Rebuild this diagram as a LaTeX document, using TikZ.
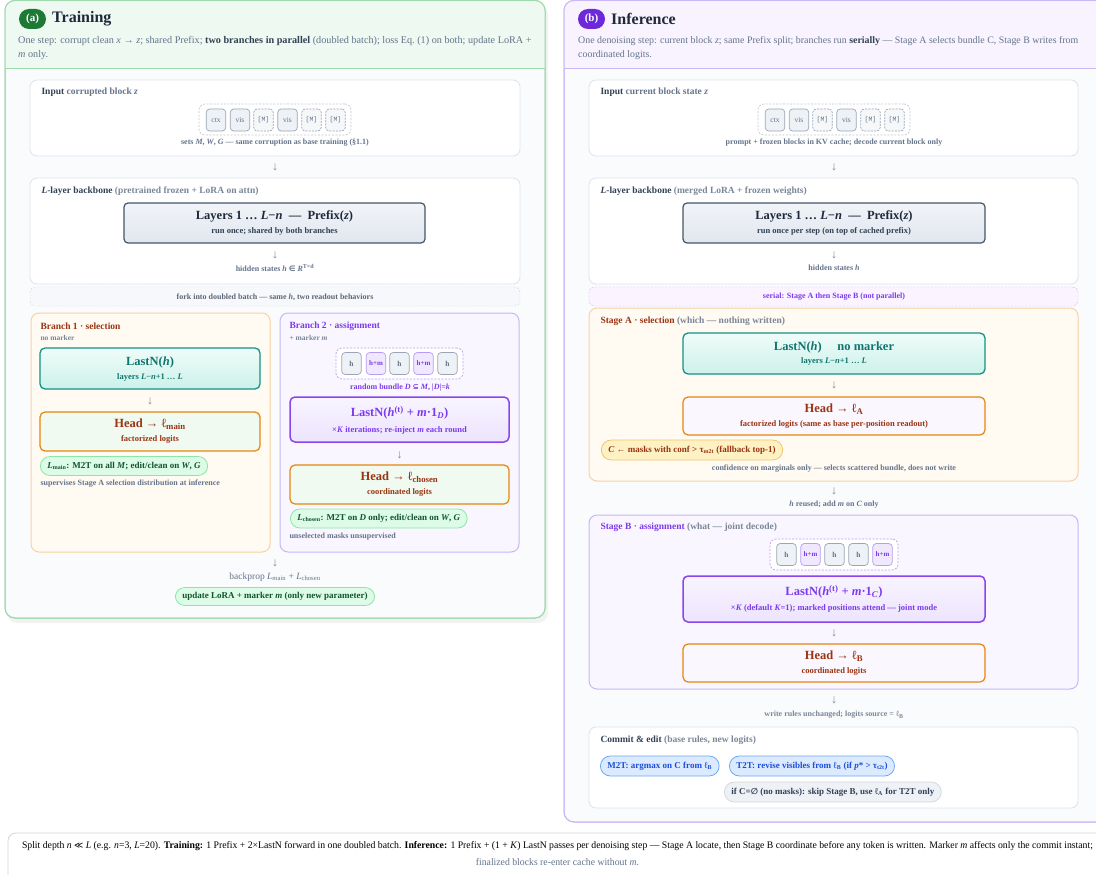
\documentclass[tikz,border=0pt]{standalone}
\usepackage{fontspec}
\setmainfont{Liberation Serif}
\setmonofont{Liberation Mono}
\newfontfamily\symf{DejaVu Sans}
\usetikzlibrary{fit}
\newcommand\fs[1]{\fontsize{#1}{#1}\selectfont}
\newcommand\ssb[1]{\textsubscript{#1}}
\newcommand\ssp[1]{\textsuperscript{#1}}
\definecolor{ink}{HTML}{1E293B}
\definecolor{slate}{HTML}{334155}
\definecolor{muted}{HTML}{64748B}
\definecolor{mutedl}{HTML}{7B8798}
\definecolor{cardline}{HTML}{DDE3EC}
\definecolor{tokline}{HTML}{9AA6B6}
\definecolor{tokfill}{HTML}{EEF1F5}
\definecolor{trborder}{HTML}{9ED9AE}
\definecolor{trhead}{HTML}{EEF9F1}
\definecolor{trbadge}{HTML}{1C7A36}
\definecolor{inborder}{HTML}{C9B8F7}
\definecolor{inhead}{HTML}{F8F3FE}
\definecolor{inbadge}{HTML}{6D28D9}
\definecolor{bodyfill}{HTML}{FAFBFD}
\definecolor{brownt}{HTML}{9A3412}
\definecolor{tealt}{HTML}{0F766E}
\definecolor{tealline}{HTML}{139383}
\definecolor{tealtop}{HTML}{EFFCF9}
\definecolor{tealbot}{HTML}{CDF1EA}
\definecolor{purp}{HTML}{7C3AED}
\definecolor{purpline}{HTML}{8B45EE}
\definecolor{purptop}{HTML}{F8F4FF}
\definecolor{purpbot}{HTML}{EDE4FE}
\definecolor{orng}{HTML}{E5860F}
\definecolor{creamfill}{HTML}{FFFAF2}
\definecolor{creamline}{HTML}{F8D3A0}
\definecolor{lilacfill}{HTML}{FAF6FF}
\definecolor{lilacline}{HTML}{C8B6FA}
\definecolor{greenpill}{HTML}{DCFCE7}
\definecolor{greenpline}{HTML}{8EE5A8}
\definecolor{greenptext}{HTML}{14532D}
\definecolor{yellpill}{HTML}{FEF1C3}
\definecolor{yellpline}{HTML}{F3C46E}
\definecolor{bluepill}{HTML}{DBEAFE}
\definecolor{bluepline}{HTML}{6AAAF5}
\definecolor{bluetext}{HTML}{1D4ED8}
\definecolor{graypill}{HTML}{EEF1F5}
\definecolor{graypline}{HTML}{D3D8E0}
\definecolor{innerl}{HTML}{475569}
\definecolor{innertop}{HTML}{F1F4F8}
\definecolor{innerbot}{HTML}{E1E7EF}
\definecolor{headgfill}{HTML}{F0FAF1}
\definecolor{headpfill}{HTML}{FBF7FF}
\definecolor{tokhmfill}{HTML}{F0E8FE}
\definecolor{tokhmline}{HTML}{B99CF6}
\definecolor{forkfill}{HTML}{F6F8FB}
\definecolor{serialfill}{HTML}{FBF3FF}
\definecolor{footline}{HTML}{CFD6E0}
\newsavebox\foota
\newlength\footw
\begin{document}
\sbox\foota{\fs{10}Split depth \textit{n} {\symf\fs{9}≪} \textit{L} (e.g. \textit{n}=3, \textit{L}=20). \textbf{Training:} 1 Prefix + 2×LastN forward in one doubled batch. \textbf{Inference:} 1 Prefix + (1 + \textit{K}) LastN passes per denoising step — Stage A locate, then Stage B coordinate before any token is written. Marker \textit{m} affects only the commit instant;}%
\setlength\footw{\wd\foota}%
\pgfmathsetmacro\footr{1071/\footw}%
\begin{tikzpicture}[x=1pt,y=-1pt,
  panel/.style={inner sep=0pt, rounded corners=10pt, line width=1pt, fill=bodyfill},
  card/.style={draw=cardline, fill=white, rounded corners=7pt, line width=0.8pt, inner sep=0pt},
  tokwrap/.style={draw=tokline!60, dash pattern=on 2pt off 1.5pt, fill=white, rounded corners=6pt, inner sep=0pt, line width=0.7pt},
  tokwrapp/.style={tokwrap, draw=tokhmline},
  tokc/.style={draw=tokline, fill=tokfill, rounded corners=3.5pt, minimum width=19.5pt, minimum height=22pt, inner sep=0pt, font=\fs{7.5}, text=muted, line width=0.7pt},
  tokm/.style={tokc, dash pattern=on 2pt off 1.2pt, fill=tokfill!60, font=\fs{6.5}\ttfamily},
  tokh/.style={tokc, font=\fs{7.5}\bfseries},
  tokhm/.style={tokc, draw=tokhmline, fill=tokhmfill, text=purp, font=\fs{7}\bfseries},
  innerbox/.style={draw=innerl, line width=1.2pt, rounded corners=4pt, top color=innertop, bottom color=innerbot, inner sep=0pt},
  tealbox/.style={draw=tealline, line width=1.3pt, rounded corners=5pt, top color=tealtop, bottom color=tealbot, inner sep=0pt},
  purpbox/.style={draw=purpline, line width=1.5pt, rounded corners=5pt, top color=purptop, bottom color=purpbot, inner sep=0pt},
  headg/.style={draw=orng, line width=1.2pt, rounded corners=5pt, fill=headgfill, inner sep=0pt},
  headp/.style={headg, fill=headpfill},
  branchc/.style={draw=creamline, fill=creamfill, rounded corners=8pt, line width=1pt, inner sep=0pt},
  branchl/.style={draw=lilacline, fill=lilacfill, rounded corners=8pt, line width=1pt, inner sep=0pt},
  pillbase/.style={rounded corners=9.5pt, minimum height=19pt, inner xsep=7pt, inner ysep=0pt, line width=0.8pt, font=\fs{9}\bfseries},
  gpill/.style={pillbase, draw=greenpline, fill=greenpill, text=greenptext},
  ypill/.style={pillbase, draw=yellpline, fill=yellpill, text=brownt},
  bpill/.style={pillbase, draw=bluepline, fill=bluepill, text=bluetext},
  grpill/.style={pillbase, draw=graypline, fill=graypill, text=slate},
  arr/.style={font=\fs{12}, text=mutedl, inner sep=0pt},
  ttl/.style={anchor=west, font=\fs{9.5}\bfseries, text=slate},
  capt/.style={font=\fs{8}\bfseries, text=muted, inner sep=0pt},
  bigt/.style={font=\fs{12.5}\bfseries, inner sep=0pt},
  smt/.style={font=\fs{8.5}\bfseries, inner sep=0pt},
  badge/.style={rounded corners=10pt, minimum width=27pt, minimum height=20pt, text=white, font=\fs{11}\bfseries, inner sep=0pt},
  subt/.style={anchor=base west, font=\fs{10}, text=muted, inner sep=0pt}
]
\useasboundingbox (0,0) rectangle (1096,875);
\fill[white] (0,0) rectangle (1096,875);

%================ TRAINING PANEL =================
\fill[black, opacity=0.05, rounded corners=10pt] (7,4) rectangle (548,623);
\node[panel, draw=trborder, fit={(5,0.5)(545,618)}] (trpanel) {};
\begin{scope}
  \clip[rounded corners=10pt] (5,0.5) rectangle (545,618);
  \fill[trhead] (5,0) rectangle (545,68);
\end{scope}
\draw[trborder, line width=0.8pt] (5,68) -- (545,68);
\draw[trborder, line width=1pt, rounded corners=10pt] (5,0.5) rectangle (545,618);

\node[badge, fill=trbadge] (abadge) at (32.5,19) {(a)};
\node[anchor=west, font=\fs{16}\bfseries, text=ink, inner sep=0pt] (atitle) at (52,19) {Training};
\node[subt, font=\fs{10.2}] (asub1) at (18,43.5) {One step: corrupt clean \textit{x} → \textit{z}; shared Prefix; \textbf{\textcolor{slate}{two branches in parallel}} (doubled batch); loss Eq.~(1) on both; update LoRA +};
\node[subt, font=\fs{10.2}] (asub2) at (18,57.5) {\textit{m} only.};

% input card
\node[card, fit={(30,80)(520,156)}] (ainput) {};
\node[ttl] (ainputt) at (38,92) {Input \textcolor{muted}{corrupted block \textit{z}}};
\node[tokwrap, fit={(199,104)(351,135)}] (atoks) {};
\node[tokc] (at1) at (216,120) {ctx};
\node[tokc] (at2) at (240,120) {vis};
\node[tokm] (at3) at (263.5,120) {[M]};
\node[tokc] (at4) at (287.5,120) {vis};
\node[tokm] (at5) at (311.5,120) {[M]};
\node[tokm] (at6) at (335.5,120) {[M]};
\node[capt] (acap) at (275,143) {sets \textit{M}, \textit{W}, \textit{G} — same corruption as base training (§1.1)};
\node[arr] (aarr1) at (275,167) {↓};

% backbone
\node[card, fit={(30,178)(520,284)}] (aback) {};
\node[ttl] (abackt) at (38,191) {\textit{L}-layer backbone \textcolor{mutedl}{(pretrained frozen + LoRA on attn)}};
\node[innerbox, fit={(124,203)(425,243)}] (apre) {};
\node[bigt, text=ink] (apre1) at (274.5,216) {Layers 1 … \textit{L}−\textit{n} \ — \ Prefix(\textit{z})};
\node[smt, text=slate] (apre2) at (274.5,231) {run once; shared by both branches};
\node[arr] (aarr2) at (275,255) {↓};
\node[capt] (ahid) at (275,268) {hidden states \textit{h} {\symf\fs{7.5}∈} \textit{R}\ssp{T×d}};

% fork
\node[draw=tokline!45, dash pattern=on 2pt off 1.5pt, fill=forkfill, rounded corners=5pt, inner sep=0pt, fit={(30,287)(520,306)}] (afork) {};
\node[capt, text=slate!80] (aforkt) at (275,297) {fork into doubled batch — same \textit{h}, two readout behaviors};

% branch 1
\node[branchc, fit={(31,313)(270,552)}] (b1) {};
\node[ttl, text=brownt] (b1t) at (37,326) {Branch 1 · selection};
\node[anchor=west, font=\fs{7.5}\bfseries, text=mutedl] (b1s) at (37,338) {no marker};
\node[tealbox, fit={(40,348)(260,389)}] (b1last) {};
\node[bigt, text=tealt] (b1last1) at (150,362) {LastN(\textit{h})};
\node[smt, text=tealt] (b1last2) at (150,377) {layers \textit{L}−\textit{n}+1 … \textit{L}};
\node[arr] (b1arr) at (150,401) {↓};
\node[headg, fit={(40,412)(260,451)}] (b1head) {};
\node[bigt, text=brownt] (b1head1) at (150,424) {Head → ℓ\ssb{main}};
\node[smt, text=brownt] (b1head2) at (150,439) {factorized logits};
\node[gpill, anchor=west] (b1loss) at (40,466) {\textit{L}\ssb{main}: M2T on all \textit{M}; edit/clean on \textit{W}, \textit{G}};
\node[anchor=west, font=\fs{8}\bfseries, text=muted] (b1note) at (37,484) {supervises Stage A selection distribution at inference};

% branch 2
\node[branchl, fit={(280,313)(519,552)}] (b2) {};
\node[ttl, text=purp] (b2t) at (286,326) {Branch 2 · assignment};
\node[anchor=west, font=\fs{7.5}\bfseries, text=mutedl] (b2s) at (286,338) {+ marker \textit{m}};
\node[tokwrapp, fit={(336,348)(463,379)}] (b2toks) {};
\node[tokh] (b2t1) at (351.5,363.5) {h};
\node[tokhm] (b2t2) at (376,363.5) {h+m};
\node[tokh] (b2t3) at (399.5,363.5) {h};
\node[tokhm] (b2t4) at (423.5,363.5) {h+m};
\node[tokh] (b2t5) at (447.5,363.5) {h};
\node[capt, text=purp] (b2cap) at (400,388) {random bundle \textit{D} {\symf\fs{7.5}⊆} \textit{M}, |\textit{D}|=\textit{k}};
\node[purpbox, fit={(290,397)(509,442)}] (b2last) {};
\node[bigt, text=purp] (b2last1) at (399.5,413) {LastN(\textit{h}\ssp{(t)} + \textit{m}·1\ssb{\textit{D}})};
\node[smt, text=purp] (b2last2) at (399.5,430) {×\textit{K} iterations; re-inject \textit{m} each round};
\node[arr] (b2arr) at (399.5,455) {↓};
\node[headg, fit={(290,465)(509,504)}] (b2head) {};
\node[bigt, text=brownt] (b2head1) at (399.5,477) {Head → ℓ\ssb{chosen}};
\node[smt, text=brownt] (b2head2) at (399.5,492) {coordinated logits};
\node[gpill, anchor=west] (b2loss) at (290,518.5) {\textit{L}\ssb{chosen}: M2T on \textit{D} only; edit/clean on \textit{W}, \textit{G}};
\node[anchor=west, font=\fs{8}\bfseries, text=muted] (b2note) at (286,537) {unselected masks unsupervised};

\node[arr] (aarr3) at (275,563) {↓};
\node[font=\fs{9.5}, text=muted, inner sep=0pt] (aback2) at (275,577) {backprop \textit{L}\ssb{main} + \textit{L}\ssb{chosen}};
\node[gpill, minimum height=18pt] (aupd) at (275,596.5) {update LoRA + marker \textit{m} (only new parameter)};

%================ INFERENCE PANEL =================
\node[panel, draw=inborder, fit={(564,0.5)(1110,822)}] (inpanel) {};
\begin{scope}
  \clip[rounded corners=10pt] (564,0.5) rectangle (1110,822);
  \fill[inhead] (564,0) rectangle (1110,68);
\end{scope}
\draw[inborder, line width=0.8pt] (564,68) -- (1110,68);
\draw[inborder, line width=1pt, rounded corners=10pt] (564,0.5) rectangle (1110,822);

\node[badge, fill=inbadge] (bbadge) at (591.5,19) {(b)};
\node[anchor=west, font=\fs{16}\bfseries, text=ink, inner sep=0pt] (btitle) at (611,19) {Inference};
\node[subt, font=\fs{9.9}] (bsub1) at (578,43.5) {One denoising step: current block \textit{z}; same Prefix split; branches run \textbf{\textcolor{slate}{serially}} — Stage A selects bundle C, Stage B writes from};
\node[subt, font=\fs{9.9}] (bsub2) at (578,57.5) {coordinated logits.};

% input
\node[card, fit={(589,80)(1078,156)}] (binput) {};
\node[ttl] (binputt) at (597,92) {Input \textcolor{muted}{current block state \textit{z}}};
\node[tokwrap, fit={(758,104)(910,135)}] (btoks) {};
\node[tokc] (bt1) at (775,120) {ctx};
\node[tokc] (bt2) at (799,120) {vis};
\node[tokm] (bt3) at (822.5,120) {[M]};
\node[tokc] (bt4) at (846.5,120) {vis};
\node[tokm] (bt5) at (870.5,120) {[M]};
\node[tokm] (bt6) at (894.5,120) {[M]};
\node[capt] (bcap) at (834,143) {prompt + frozen blocks in KV cache; decode current block only};
\node[arr] (barr1) at (834,167) {↓};

% backbone
\node[card, fit={(589,178)(1078,284)}] (bback) {};
\node[ttl] (bbackt) at (597,191) {\textit{L}-layer backbone \textcolor{mutedl}{(merged LoRA + frozen weights)}};
\node[innerbox, fit={(683,203)(985,243)}] (bpre) {};
\node[bigt, text=ink] (bpre1) at (834,216) {Layers 1 … \textit{L}−\textit{n} \ — \ Prefix(\textit{z})};
\node[smt, text=slate] (bpre2) at (834,231) {run once per step (on top of cached prefix)};
\node[arr] (barr2) at (834,255) {↓};
\node[capt] (bhid) at (834,268) {hidden states \textit{h}};

% serial bar
\node[draw=lilacline, dash pattern=on 2pt off 1.5pt, fill=serialfill, rounded corners=5pt, inner sep=0pt, fit={(589,287)(1078,306)}] (bserial) {};
\node[capt, text=purp] (bserialt) at (834,297) {serial: Stage A then Stage B (not parallel)};

% stage A
\node[branchc, fit={(589,308)(1078,481)}] (sa) {};
\node[ttl, text=brownt] (sat) at (597,321) {Stage A · selection \textcolor{mutedl}{(which — nothing written)}};
\node[tealbox, fit={(683,333)(985,374)}] (salast) {};
\node[bigt, text=tealt] (salast1) at (834,347) {LastN(\textit{h}) \quad no marker};
\node[smt, text=tealt] (salast2) at (834,361.5) {layers \textit{L}−\textit{n}+1 … \textit{L}};
\node[arr] (saarr) at (834,385) {↓};
\node[headp, fit={(683,397)(985,435)}] (sahead) {};
\node[bigt, text=brownt] (sahead1) at (834,409) {Head → ℓ\ssb{A}};
\node[smt, text=brownt] (sahead2) at (834,424) {factorized logits (same as base per-position readout)};
\node[ypill, minimum height=20pt, rounded corners=10pt] (sapill) at (692,450) {\textit{C} ← masks with conf > τ\ssb{m2t} (fallback top-1)};
\node[capt] (sanote) at (834,468.5) {confidence on marginals only — selects scattered bundle, does not write};

\node[arr] (barr3) at (834,491) {↓};
\node[capt] (breuse) at (834,505) {\textit{h} reused; add \textit{m} on \textit{C} only};

% stage B
\node[branchl, fit={(589,515)(1078,689)}] (sb) {};
\node[ttl, text=purp] (sbt) at (597,527.5) {Stage B · assignment \textcolor{mutedl}{(what — joint decode)}};
\node[tokwrapp, fit={(770,539)(898,570)}] (sbtoks) {};
\node[tokh] (sbt1) at (786.5,554.5) {h};
\node[tokhm] (sbt2) at (810.5,554.5) {h+m};
\node[tokh] (sbt3) at (834.5,554.5) {h};
\node[tokh] (sbt4) at (858.5,554.5) {h};
\node[tokhm] (sbt5) at (882.5,554.5) {h+m};
\node[purpbox, fit={(683,576)(985,622)}] (sblast) {};
\node[bigt, text=purp] (sblast1) at (834,592) {LastN(\textit{h}\ssp{(t)} + \textit{m}·1\ssb{\textit{C}})};
\node[smt, text=purp] (sblast2) at (834,608.5) {×\textit{K} (default \textit{K}=1); marked positions attend — joint mode};
\node[arr] (sbarr) at (834,633) {↓};
\node[headp, fit={(683,644)(985,682)}] (sbhead) {};
\node[bigt, text=brownt] (sbhead1) at (834,656) {Head → ℓ\ssb{B}};
\node[smt, text=brownt] (sbhead2) at (834,671) {coordinated logits};

\node[arr] (barr4) at (834,700) {↓};
\node[capt, text=mutedl] (bwrite) at (834,715) {write rules unchanged; logits source = ℓ\ssb{B}};

% commit
\node[card, fit={(589,727)(1078,808)}] (bcommit) {};
\node[ttl] (bcommitt) at (597,740) {Commit \& edit \textcolor{mutedl}{(base rules, new logits)}};
\node[bpill, minimum height=20pt, rounded corners=10pt, anchor=west] (bm2t) at (600,766) {M2T: argmax on C from ℓ\ssb{B}};
\node[bpill, minimum height=20pt, rounded corners=10pt, anchor=west] (bt2t) at (729,766) {T2T: revise visibles from ℓ\ssb{B} (if \textit{p}* > τ\ssb{t2t})};
\node[grpill, minimum height=20pt, rounded corners=10pt, anchor=west] (bempty) at (724,792) {if C={\symf\fs{8.5}∅} (no masks): skip Stage B, use ℓ\ssb{A} for T2T only};

%================ FOOTER =================
\node[draw=footline, fill=white, rounded corners=8pt, line width=0.8pt, inner sep=0pt, fit={(8,833)(1112,892)}] (foot) {};
\node[text=muted, inner sep=0pt] (foot1) at (557.5,846) {\scalebox{\footr}[1]{\usebox\foota}};
\node[text=muted, inner sep=0pt] (foot2) at (557.5,862) {\scalebox{\footr}[1]{\fs{10}finalized blocks re-enter cache without \textit{m}.}};
\end{tikzpicture}
\end{document}
